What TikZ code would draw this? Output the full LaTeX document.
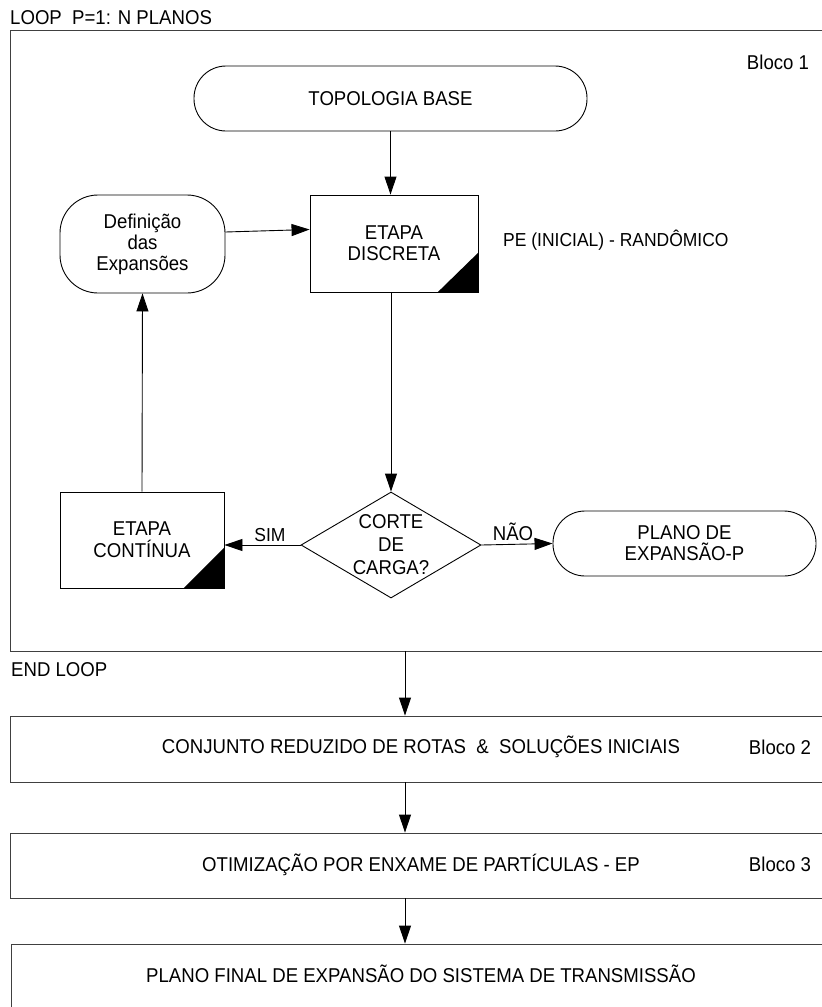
\documentclass[tikz,border=0pt]{standalone}
\usepackage{fontspec}
\setmainfont[FakeStretch=0.93]{Liberation Sans}
\usetikzlibrary{arrows.meta,shapes.geometric}
\begin{document}
\begin{tikzpicture}[x=1pt,y=1pt,
  every node/.style={font=\fontsize{20}{21}\selectfont},
  arr/.style={draw=black, line width=0.9pt, -{Triangle[length=18pt,width=12pt]}},
  term/.style={draw, line width=0.9pt, rounded corners=32pt, inner sep=0pt, align=center},
  proc/.style={draw, line width=0.9pt, inner sep=0pt, align=center},
  blk/.style={draw=black!75, line width=0.9pt, inner sep=0pt},
  dia/.style={diamond, draw, line width=0.9pt, inner sep=0pt, minimum width=180pt, minimum height=106pt},
  lbl/.style={inner sep=0pt},
  small/.style={font=\fontsize{18.8}{21}\selectfont}]
\path[use as bounding box] (0,0) rectangle (822,-1007);
\clip (0,0) rectangle (822,-1007);
\fill[white] (0,0) rectangle (822,-1007);
% Bloco 1 frame
\node[blk, minimum width=820pt, minimum height=621pt] (b1) at (420,-340.5) {};
\node[lbl, anchor=base west] (loop) at (10,-24.5) {LOOP\ \ P=1: N PLANOS};
\node[lbl, anchor=base] (b1lbl) at (778,-69.5) {Bloco 1};
\node[term, minimum width=393pt, minimum height=65pt] (topo) at (390.5,-98.5) {TOPOLOGIA BASE};
\node[proc, minimum width=168pt, minimum height=97pt] (disc) at (394,-243.5) {ETAPA\\DISCRETA};
\fill (disc.south east) -- ++(-41,0) -- ++(41,40) -- cycle;
\node[lbl, small, anchor=base west] (pe) at (503,-246.6) {PE (INICIAL) - RANDÔMICO};
\node[term, rounded corners=38pt, minimum width=165pt, minimum height=98pt] (def) at (142.5,-244) {Definição\\das\\Expansões};
\node[dia] (cut) at (391,-545) {};
\node[lbl, align=center, font=\fontsize{20}{23}\selectfont] (cuttxt) at (cut) {CORTE\\DE\\CARGA?};
\node[proc, minimum width=164pt, minimum height=96pt, font=\fontsize{20}{22}\selectfont] (cont) at (142,-540) {ETAPA\\CONTÍNUA};
\fill (cont.south east) -- ++(-41,0) -- ++(41,41) -- cycle;
\node[term, minimum width=263pt, minimum height=65pt] (plano) at (684.5,-543.5) {PLANO DE\\EXPANSÃO-P};
\node[lbl, small, anchor=base] (sim) at (270,-541.5) {SIM};
\node[lbl, anchor=base] (nao) at (513,-540) {NÃO};
% connectors in bloco 1
\draw[arr] (topo.south) -- (topo.south |- disc.north);
\draw[arr] ([yshift=12pt]def.east) -- ([yshift=14pt]disc.west);
\draw[arr] (cut.north |- disc.south) -- (cut.north);
\draw[arr] (cont.north) -- (def.south);
\draw[arr] (cut.west) -- (cut.west -| cont.east);
\draw[arr] (cut.east) -- (plano.west);
% lower blocks
\coordinate (ax) at (405,0);
\node[lbl, anchor=base west] (endloop) at (11,-676.6) {END LOOP};
\node[blk, minimum width=820pt, minimum height=66pt] (b2) at (420,-749) {};
\node[lbl, anchor=base] (b2txt) at (421,-753) {CONJUNTO REDUZIDO DE ROTAS\ \ \&\ \ SOLUÇÕES INICIAIS};
\node[lbl, anchor=base] (b2lbl) at (780,-754) {Bloco 2};
\node[blk, minimum width=820pt, minimum height=65pt] (b3) at (420,-865.5) {};
\node[lbl, anchor=base] (b3txt) at (421,-871) {OTIMIZAÇÃO POR ENXAME DE PARTÍCULAS - EP};
\node[lbl, anchor=base] (b3lbl) at (780,-871.5) {Bloco 3};
\node[blk, minimum width=820pt, minimum height=120pt] (fin) at (421,-1004) {};
\node[lbl, anchor=base] (fintxt) at (421,-982) {PLANO FINAL DE EXPANSÃO DO SISTEMA DE TRANSMISSÃO};
\draw[arr] (ax |- b1.south) -- (ax |- b2.north);
\draw[arr] (ax |- b2.south) -- (ax |- b3.north);
\draw[arr] (ax |- b3.south) -- (ax |- fin.north);
\end{tikzpicture}
\end{document}
